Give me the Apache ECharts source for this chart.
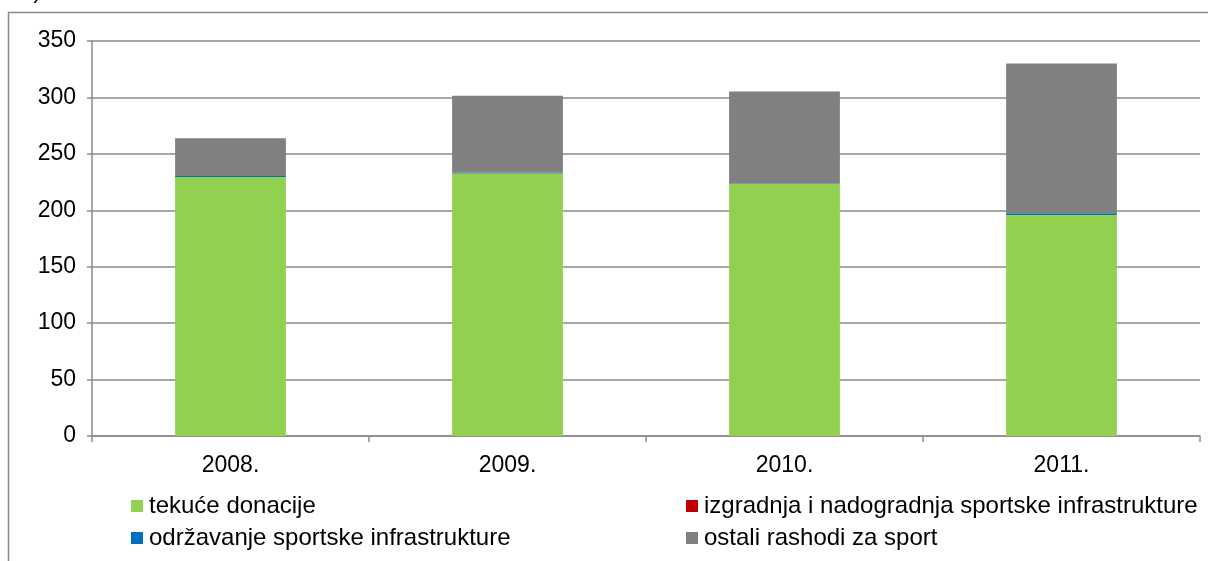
<!DOCTYPE html>
<html>
<head>
<meta charset="utf-8">
<style>
  html, body { margin: 0; padding: 0; background: #ffffff; }
  #chart { width: 1208px; height: 561px; }
</style>
<script src="https://cdn.jsdelivr.net/npm/echarts@6/dist/echarts.min.js"></script>
</head>
<body>
<div id="chart"></div>
<script>
// Sport expenditure by year, stacked by type of expense
const years = ['2008.', '2009.', '2010.', '2011.'];
const yTicks = [0, 50, 100, 150, 200, 250, 300, 350];

const tekuceDonacije = [229.5, 232.5, 223.3, 195.8];
const izgradnja = [0, 0, 0, 0];
const odrzavanje = [0.8, 0.8, 0.5, 1.5];
const ostaliRashodi = [33.5, 68.2, 81.4, 132.7];

const seriesNames = [
  'tekuće donacije',
  'izgradnja i nadogradnja sportske infrastrukture',
  'održavanje sportske infrastrukture',
  'ostali rashodi za sport'
];
const seriesColors = ['#92d050', '#c00000', '#0070c0', '#808080'];
const seriesData = [tekuceDonacije, izgradnja, odrzavanje, ostaliRashodi];

const font = 'Liberation Sans, Arial, sans-serif';
const axisGray = '#8a8a8a';
const chart = echarts.init(document.getElementById('chart'), null, { renderer: 'canvas' });

const legendBase = {
  orient: 'vertical',
  itemWidth: 12,
  itemHeight: 12,
  itemGap: 8,
  icon: 'rect',
  selectedMode: false,
  textStyle: { fontFamily: font, fontSize: 24, lineHeight: 24, color: '#000', padding: [0, 0, 0, 1] },
  padding: 0
};

chart.setOption({
  animation: false,
  backgroundColor: '#ffffff',
  textStyle: { fontFamily: font },
  grid: { left: 92, right: 8, top: 41, bottom: 125, containLabel: false },
  legend: [
    Object.assign({}, legendBase, { left: 131, top: 494, data: [seriesNames[0], seriesNames[2]] }),
    Object.assign({}, legendBase, { left: 686, top: 494, data: [seriesNames[1], seriesNames[3]] })
  ],
  xAxis: {
    type: 'category',
    data: years,
    axisLine: { show: true, lineStyle: { color: axisGray, width: 1.5 } },
    axisTick: { show: true, length: 6, alignWithLabel: false, lineStyle: { color: axisGray, width: 1.5 } },
    axisLabel: { color: '#000', fontSize: 23, fontFamily: font, margin: 18 }
  },
  yAxis: {
    type: 'value',
    min: yTicks[0],
    max: yTicks[yTicks.length - 1],
    interval: 50,
    axisLine: { show: true, lineStyle: { color: axisGray, width: 1.5 } },
    axisTick: { show: true, length: 5, lineStyle: { color: axisGray, width: 1.5 } },
    axisLabel: { color: '#000', fontSize: 23, fontFamily: font, margin: 16 },
    splitLine: { show: true, lineStyle: { color: axisGray, width: 1.5 } }
  },
  series: seriesNames.map((name, i) => ({
    name: name,
    type: 'bar',
    stack: 'sport',
    barWidth: '40%',
    data: seriesData[i],
    itemStyle: { color: seriesColors[i] }
  })),
  graphic: [
    {
      type: 'rect',
      shape: { x: 8.5, y: 12.5, width: 1210, height: 560 },
      style: { fill: null, stroke: axisGray, lineWidth: 1.5 },
      silent: true
    },
    {
      type: 'text',
      left: 20,
      top: -21,
      style: { text: 'a)', font: '24px ' + font, fill: '#000' },
      silent: true
    }
  ]
});
</script>
</body>
</html>
